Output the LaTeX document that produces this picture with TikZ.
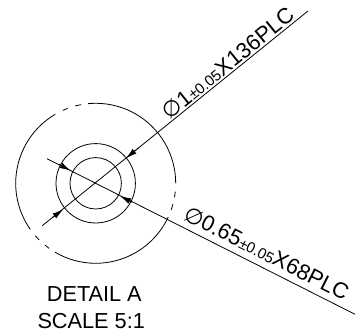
\documentclass[tikz,border=0pt]{standalone}
\usepackage{fontspec}
\setmainfont{Liberation Sans}
\newfontfamily\symfont{DejaVu Sans}
\usetikzlibrary{arrows.meta}
\newcommand{\dimbig}{\fontsize{22}{26}\selectfont}
\newcommand{\dimsmall}{\fontsize{15}{18}\selectfont}
\newcommand{\dimdia}{{\symfont\fontsize{22}{26}\selectfont\char"2205}}
\tikzset{
	outline/.style={line width=0.8pt},
	leader/.style={line width=0.8pt},
	tip/.style={-{Latex[length=11pt,width=6pt]},line width=0.8pt},
	dimtext/.style={inner sep=0pt,anchor=base west},
	caption/.style={inner sep=0pt,anchor=base,font=\fontsize{21.7}{26}\selectfont}
}
\begin{document}
\begin{tikzpicture}[x=1pt,y=1pt]
	\useasboundingbox (0,0) rectangle (360,334);
	\coordinate (centre) at (95.7,150.7);
	% outer circle, broken in three places
	\foreach \from/\to in {0/95.5,100.5/104.8,110.5/114.4,120.4/215.3,221/225,230.7/234.5,239.6/335,344.8/340.5,354/350}
		\draw[outline] (centre) ++(\from:80) arc[start angle=\from,end angle=\to,radius=80pt];
	\draw[outline] (centre) circle[radius=39.7pt];
	\draw[outline] (centre) circle[radius=25.7pt];
	% leaders
	\coordinate (leadA) at (42.3,108.3);
	\coordinate (leadB) at (308,323);
	\coordinate (leadC) at (47,175.3);
	\coordinate (leadD) at (355,19.7);
	\draw[leader] (leadA) -- (leadB);
	\draw[leader] (leadC) -- (leadD);
	% arrow heads
	\coordinate (tailA) at (138.3,186);
	\coordinate (headA) at (126,175.7);
	\coordinate (tailB) at (52.7,116.7);
	\coordinate (headB) at (63.3,124.7);
	\coordinate (tailC) at (59,169.7);
	\coordinate (headC) at (70.7,163.3);
	\coordinate (tailD) at (132.3,131.7);
	\coordinate (headD) at (120,138);
	\draw[tip] (tailA) -- (headA);
	\draw[tip] (tailB) -- (headB);
	\draw[tip] (tailC) -- (headC);
	\draw[tip] (tailD) -- (headD);
	% dimensions
	\node[dimtext,rotate=39] (dimA) at (169,213.5) {\dimdia\dimbig 1\dimsmall ±0.05\dimbig X136PLC};
	\node[dimtext,rotate=-26.8] (dimB) at (182,115) {\dimdia\dimbig 0.65\dimsmall ±0.05\dimbig X68PLC};
	% caption
	\node[caption] (titleA) at (94.3,32) {DETAIL A};
	\node[caption] (titleB) at (91.2,5) {SCALE 5:1};
\end{tikzpicture}
\end{document}
